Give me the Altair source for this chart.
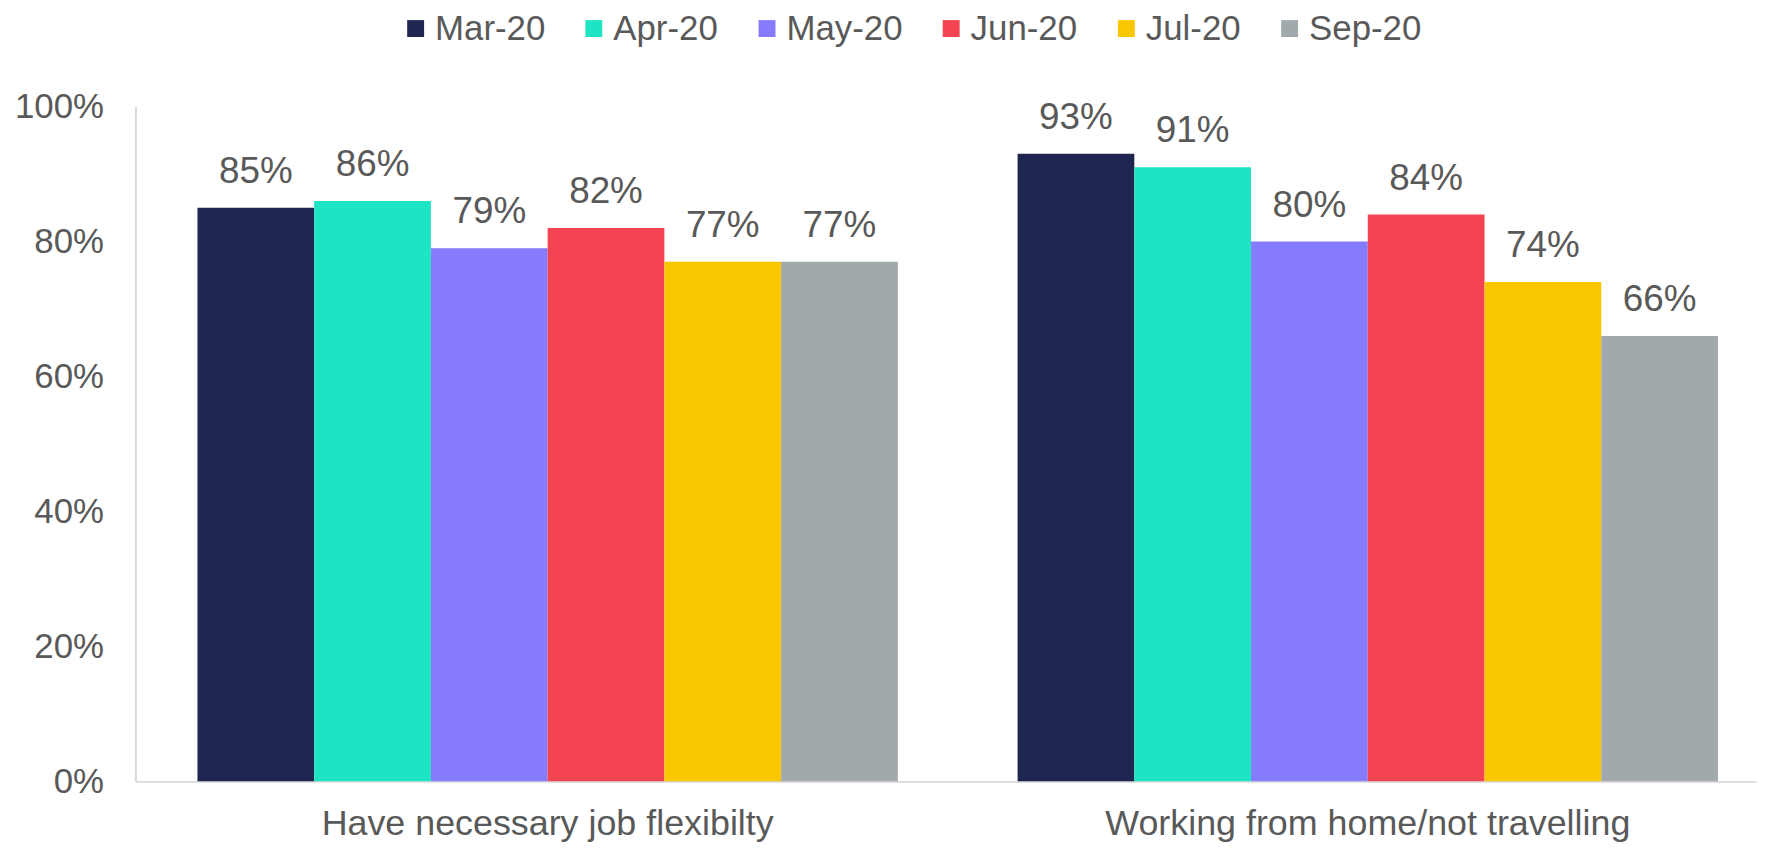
import altair as alt
import pandas as pd

categories = ["Have necessary job flexibilty", "Working from home/not travelling"]
months = ["Mar-20", "Apr-20", "May-20", "Jun-20", "Jul-20", "Sep-20"]
job_flex = [0.85, 0.86, 0.79, 0.82, 0.77, 0.77]
wfh = [0.93, 0.91, 0.80, 0.84, 0.74, 0.66]
colors = ["#1F2551", "#1DE5C3", "#857BFC", "#F44452", "#F9C700", "#A2A9AC"]

rows = []
for cat, vals in zip(categories, [job_flex, wfh]):
    for m, v in zip(months, vals):
        rows.append({"category": cat, "month": m, "value": v})
df = pd.DataFrame(rows)

FONT = "Liberation Sans"
GREY = "#595959"

x = alt.X("category:N", sort=categories, title=None,
          scale=alt.Scale(paddingInner=0.146, paddingOuter=0.061, align=0.62),
          axis=alt.Axis(labelAngle=0, ticks=False, domainColor="#D9D9D9", domainWidth=2,
                        labelFont=FONT, labelFontSize=36, labelColor=GREY, labelPadding=25,
                        labelLimit=0))
xo = alt.XOffset("month:N", sort=months, scale=alt.Scale(paddingInner=0, paddingOuter=0))
y = alt.Y("value:Q", title=None,
          scale=alt.Scale(domain=[0, 1]),
          axis=alt.Axis(values=[0, 0.2, 0.4, 0.6, 0.8, 1.0], format=".0%", grid=False, ticks=False,
                        domainColor="#D9D9D9", domainWidth=2,
                        labelFont=FONT, labelFontSize=35, labelColor=GREY, labelPadding=32))

color = alt.Color("month:N", sort=months, title=None,
                  scale=alt.Scale(domain=months, range=colors),
                  legend=alt.Legend(orient="none", direction="horizontal", legendX=264, legendY=-96,
                                    symbolType="square", symbolSize=289, symbolStrokeWidth=0,
                                    labelFont=FONT, labelFontSize=35, labelColor=GREY,
                                    columnPadding=31, labelOffset=2, labelLimit=0))

bars = alt.Chart(df).mark_bar().encode(x=x, xOffset=xo, y=y, color=color)
labels = alt.Chart(df).mark_text(dy=-25, baseline="alphabetic", font=FONT, fontSize=37, color=GREY).encode(
    x=x, xOffset=xo, y=y, text=alt.Text("value:Q", format=".0%"))

chart = (bars + labels).properties(
    width=1628, height=678,
    autosize=alt.AutoSizeParams(type="none"),
    padding={"left": 128, "top": 97, "right": 1, "bottom": 61},
).configure_view(stroke=None)

chart.save("out.html", embed_options={"renderer": "svg", "actions": False})
